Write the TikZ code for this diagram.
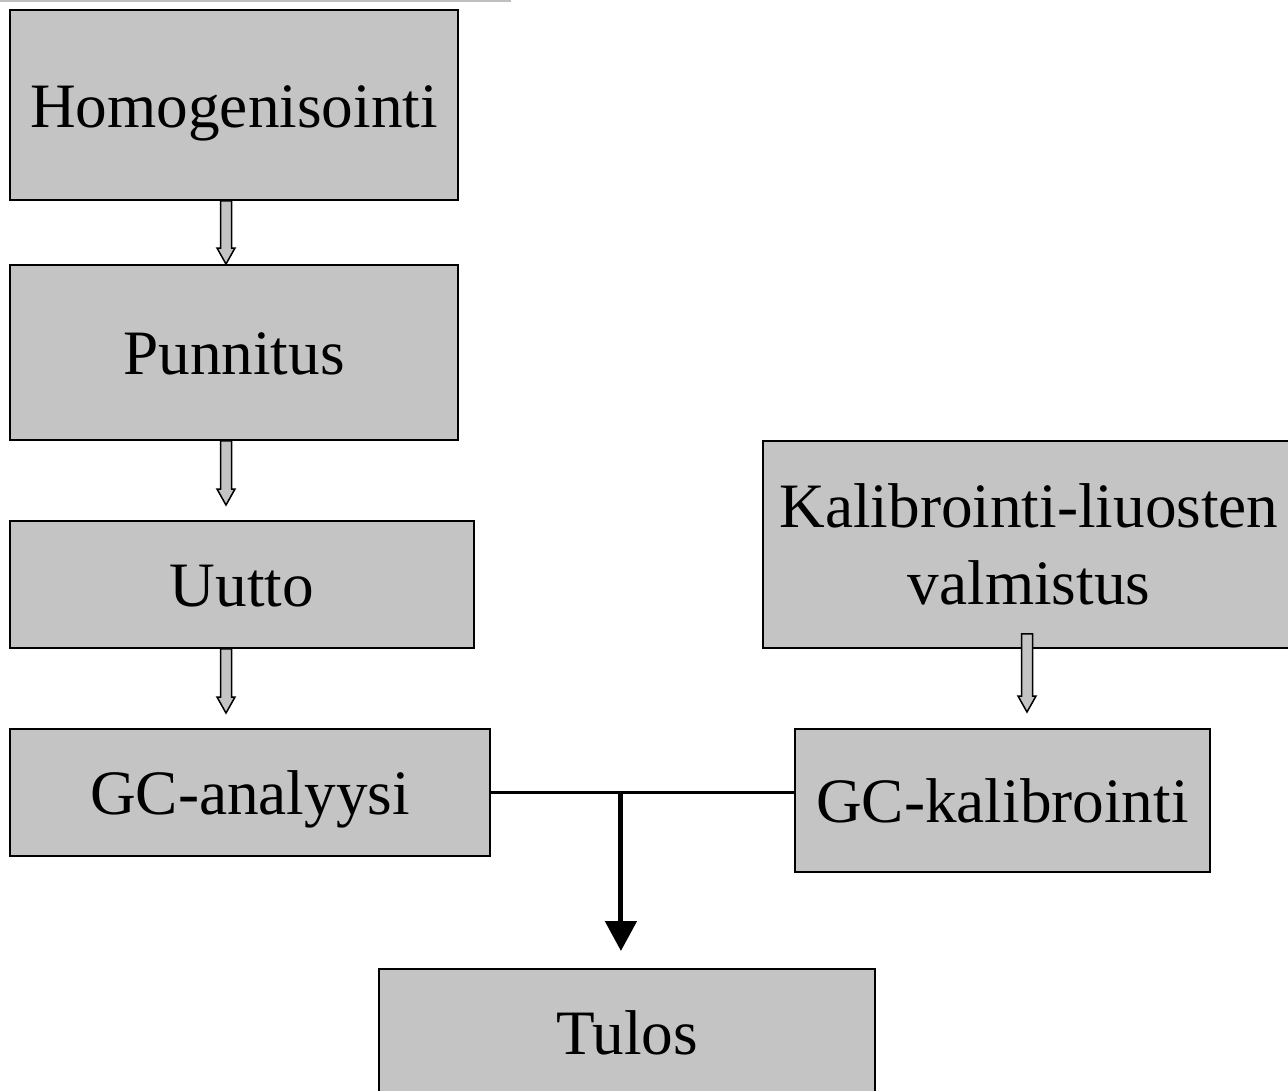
\documentclass[tikz,border=0pt]{standalone}
\usepackage{fontspec}
\setmainfont{Liberation Serif}
\usetikzlibrary{calc,arrows.meta}
\definecolor{boxgray}{RGB}{196,196,196}
% 空心箭头
\newcommand{\hollowArrow}[2]{%
  \draw[hollow] ($(#1)+(-5.5,0)$) -- ($(#2)+(-5.5,-16)$) -- ($(#2)+(-9,-16)$)
    -- (#2) -- ($(#2)+(9,-16)$) -- ($(#2)+(5.5,-16)$) -- ($(#1)+(5.5,0)$) -- cycle;}

\begin{document}
\begin{tikzpicture}[
    x=0.02cm, y=-0.02cm,
    box/.style={draw, line width=0.04cm, fill=boxgray, inner sep=0pt,
      font=\fontsize{36}{43.5}\selectfont, align=center},
    oneline/.style={box, text height=25.5pt, text depth=0pt},
    hollow/.style={draw, line width=0.03cm, fill=boxgray, line join=miter},
    joint/.style={line width=0.06cm},
    result/.style={line width=0.1cm, -{Triangle[length=0.6cm, width=0.62cm]}}]
  % 画布
  \useasboundingbox (0,0) rectangle (1288,1091);
  \clip (0,0) rectangle (1288,1091);
  \draw[line width=0.04cm, lightgray] (0,1) -- (511,1);
  % 左列各步骤
  \node[oneline, minimum width=8.96cm, minimum height=3.8cm] (homo) at (234,105) {Homogenisointi};
  \node[oneline, minimum width=8.96cm, minimum height=3.5cm] (punn) at (234,352.5) {Punnitus};
  \node[oneline, minimum width=9.28cm, minimum height=2.54cm] (uutto) at (242,584.5) {Uutto};
  \node[oneline, minimum width=9.6cm, minimum height=2.54cm] (gca) at (250,792.5) {GC-analyysi};
  % 右列各步骤
  \node[box, minimum width=10.64cm, minimum height=4.14cm] (kal) at (1029,544.5) {Kalibrointi-liuosten\\valmistus};
  \node[oneline, minimum width=8.3cm, minimum height=2.86cm] (gck) at (1002.5,800.5) {GC-kalibrointi};
  % 结果
  \node[oneline, minimum width=9.92cm, minimum height=2.54cm] (tulos) at (627,1032.5) {Tulos};
  % 定义箭头端点
  \coordinate (a1) at ([xshift=-0.16cm]homo.south);
  \coordinate (b1) at ([xshift=-0.16cm]punn.north);
  \coordinate (a2) at ([xshift=-0.16cm]punn.south);
  \coordinate (b2) at ([xshift=-0.32cm, yshift=0.3cm]uutto.north);
  \coordinate (a3) at ([xshift=-0.32cm]uutto.south);
  \coordinate (b3) at ([xshift=-0.48cm, yshift=0.3cm]gca.north);
  \coordinate (a4) at ([xshift=-0.04cm, yshift=0.3cm]kal.south);
  \coordinate (b4) at ([xshift=0.49cm, yshift=0.32cm]gck.north);
  % 绘制空心箭头
  \hollowArrow{a1}{b1}
  \hollowArrow{a2}{b2}
  \hollowArrow{a3}{b3}
  \hollowArrow{a4}{b4}
  % 汇合线
  \coordinate (j) at ([xshift=2.6cm]gca.east);
  \draw[joint] (gca.east) -- (gca.east -| gck.west);
  \draw[result] (j) -- ([yshift=0.34cm]j |- tulos.north);
\end{tikzpicture}
\end{document}
